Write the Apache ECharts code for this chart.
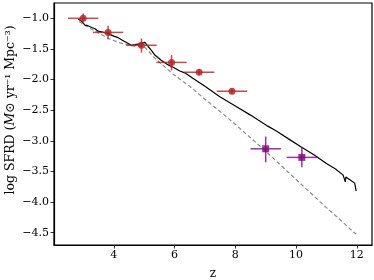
<!DOCTYPE html>
<html><head><meta charset="utf-8">
<script src="https://cdn.jsdelivr.net/npm/echarts@6/dist/echarts.min.js"></script>
<style>html,body{margin:0;padding:0;background:#fff}#c{width:374px;height:280px}</style>
</head><body><div id="c"></div>
<script>
// Observed data (red, lower z)
const redZ    = [2.99, 3.81, 4.91, 5.90, 6.81, 7.89];
const redY    = [-1.00, -1.23, -1.44, -1.72, -1.88, -2.19];
const redZErr = [0.5, 0.5, 0.5, 0.5, 0.5, 0.5];
const redYLo  = [0.09, 0.11, 0.12, 0.13, 0.05, 0.05];
const redYHi  = [0.08, 0.11, 0.11, 0.12, 0.05, 0.05];
// Observed data (purple, high z)
const purZ    = [9.00, 10.19];
const purY    = [-3.13, -3.27];
const purZErr = [0.5, 0.5];
const purYLo  = [0.22, 0.16];
const purYHi  = [0.20, 0.16];
// Model curve (black solid)
const modelZ = [2.83,2.94,3.05,3.15,3.27,3.38,3.48,3.6,3.81,4.0,4.12,4.25,4.4,4.58,4.7,4.8,4.91,5.02,5.13,5.25,5.35,5.55,5.79,6.0,6.17,6.34,6.6,7.0,7.49,8.0,8.5,9.07,9.35,9.79,10.17,10.6,11.0,11.3,11.55,11.6,11.62,11.64,11.76,11.93,11.98];
const modelY = [-1.01,-1.05,-1.11,-1.12,-1.15,-1.17,-1.21,-1.22,-1.25,-1.29,-1.31,-1.35,-1.39,-1.44,-1.43,-1.42,-1.41,-1.39,-1.46,-1.53,-1.60,-1.68,-1.76,-1.81,-1.86,-1.89,-1.98,-2.11,-2.28,-2.43,-2.58,-2.76,-2.84,-2.98,-3.10,-3.23,-3.37,-3.46,-3.56,-3.56,-3.67,-3.59,-3.63,-3.69,-3.82];
// Comparison curve (gray dashed)
const compZ = [2.85,3.16,3.5,3.81,4.2,4.69,5.0,5.35,5.6,6.0,6.22,6.5,7.0,7.5,8.0,8.2,8.5,8.8,9.0,9.5,10.0,10.5,11.0,11.5,11.87,11.98];
const compY = [-1.05,-1.15,-1.24,-1.33,-1.40,-1.46,-1.46,-1.65,-1.76,-1.93,-2.01,-2.11,-2.32,-2.52,-2.73,-2.82,-2.95,-3.08,-3.17,-3.40,-3.63,-3.86,-4.09,-4.31,-4.48,-4.52];
// Ticks
const xTicks = [4, 6, 8, 10, 12];
const yTicks = [-4.5, -4.0, -3.5, -3.0, -2.5, -2.0, -1.5, -1.0];

const FONT = 'DejaVu Serif';
const pair = (a, b) => a.map((v, i) => [v, b[i]]);

function errSeries(z, y, ze, lo, hi, color) {
  const data = z.map((v, i) => [v, y[i], ze[i], lo[i], hi[i]]);
  return {
    type: 'custom', z: 3, silent: true,
    data: data,
    renderItem: function (params, api) {
      const zc = api.value(0), yc = api.value(1), e = api.value(2), l = api.value(3), h = api.value(4);
      const a = api.coord([zc - e, yc]), b = api.coord([zc + e, yc]);
      const c = api.coord([zc, yc + h]), d = api.coord([zc, yc - l]);
      const st = { stroke: color, lineWidth: 1.5, opacity: 0.8 };
      return { type: 'group', children: [
        { type: 'line', shape: { x1: a[0], y1: a[1], x2: b[0], y2: b[1] }, style: st },
        { type: 'line', shape: { x1: c[0], y1: c[1], x2: d[0], y2: d[1] }, style: st }
      ]};
    }
  };
}

const fmt = v => (v < 0 ? '\u2212' : '') + Math.abs(v).toFixed(1);

const chart = echarts.init(document.getElementById('c'), null, { renderer: 'canvas' });
chart.setOption({
  animation: false,
  backgroundColor: '#fff',
  grid: { left: 54, top: 3, right: 2, bottom: 35, containLabel: false, outerBoundsMode: 'none',
    show: true, borderColor: '#000', borderWidth: 1.2 },
  graphic: [{
    type: 'text', x: 11, y: 110, rotation: Math.PI / 2,
    style: {
      text: '{n|log SFRD (}{i|M}{n|\u2299 yr\u207B\u00B9 Mpc\u207B\u00B3)}',
      align: 'center', verticalAlign: 'middle', fill: '#000',
      font: '12.5px "DejaVu Serif"',
      rich: { n: { fontFamily: FONT, fontSize: 12.5, fill: '#000' },
              i: { fontFamily: FONT, fontSize: 12.5, fontStyle: 'italic', fill: '#000' } }
    }
  }],
  xAxis: {
    type: 'value', min: 2.03, max: 12.5,
    name: 'z', nameLocation: 'middle', nameGap: 23,
    nameTextStyle: { fontFamily: FONT, fontSize: 12, color: '#000' },
    axisLine: { show: true, onZero: false, lineStyle: { color: '#000', width: 1.2 } },
    splitLine: { show: false },
    axisTick: { show: true, customValues: xTicks, length: 3.5, lineStyle: { color: '#000', width: 0.8 } },
    axisLabel: { customValues: xTicks, formatter: v => String(v), fontFamily: FONT, fontSize: 11, color: '#000', margin: 5 }
  },
  yAxis: {
    type: 'value', min: -4.70, max: -0.75,
    axisLine: { show: true, onZero: false, lineStyle: { color: '#000', width: 1.2 } },
    splitLine: { show: false },
    axisTick: { show: true, customValues: yTicks, length: 3.5, lineStyle: { color: '#000', width: 0.8 } },
    axisLabel: { customValues: yTicks, formatter: fmt, fontFamily: FONT, fontSize: 11, color: '#000', margin: 5 }
  },
  series: [
    { type: 'line', data: pair(compZ, compY), showSymbol: false, z: 1,
      lineStyle: { color: '#8c8c8c', width: 1.2, type: [4, 2.5] } },
    { type: 'line', data: pair(modelZ, modelY), showSymbol: false, z: 2,
      lineStyle: { color: '#000', width: 1.2 } },
    errSeries(redZ, redY, redZErr, redYLo, redYHi, '#b22222'),
    errSeries(purZ, purY, purZErr, purYLo, purYHi, '#800080'),
    { type: 'scatter', data: pair(redZ, redY), symbol: 'circle', symbolSize: 7, z: 4,
      itemStyle: { color: '#b22222' } },
    { type: 'scatter', data: pair(purZ, purY), symbol: 'rect', symbolSize: 7, z: 4,
      itemStyle: { color: '#800080' } }
  ]
});
</script>
</body></html>
